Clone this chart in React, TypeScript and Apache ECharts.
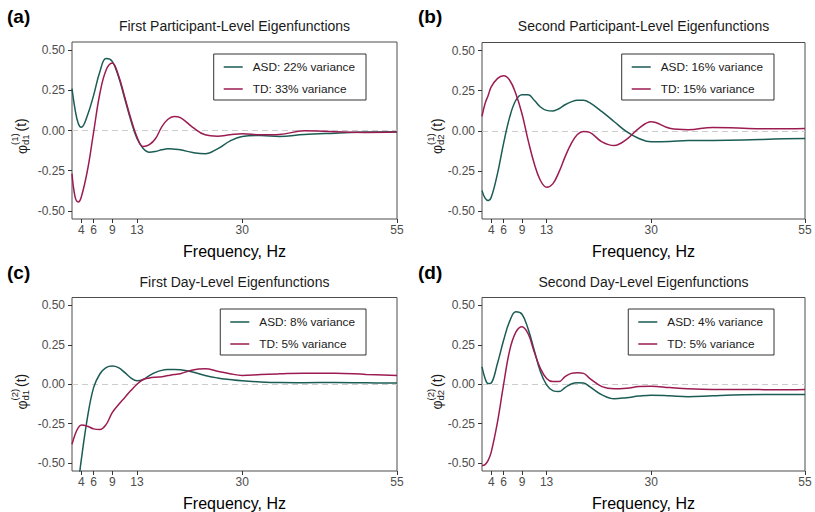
import React, { useEffect, useRef } from "react";
import * as echarts from "echarts";

// ---------- data ----------
const freq = [2.5, 3, 3.5, 4, 5, 6, 7, 8, 9, 10, 11, 12, 13, 14, 15, 16, 17, 18, 19, 20, 22, 24, 26, 28, 30, 33, 36, 40, 45, 50, 55];

const aASD = [0.26, 0.13, 0.045, 0.02, 0.095, 0.22, 0.365, 0.447, 0.43, 0.335, 0.2, 0.064, -0.05, -0.112, -0.135, -0.13, -0.12, -0.114, -0.116, -0.12, -0.137, -0.145, -0.114, -0.066, -0.037, -0.031, -0.037, -0.025, -0.017, -0.01, -0.008];
const aTD = [-0.268, -0.413, -0.444, -0.413, -0.247, -0.008, 0.23, 0.375, 0.42, 0.344, 0.21, 0.075, -0.04, -0.1, -0.088, -0.05, 0.023, 0.07, 0.087, 0.08, 0.02, -0.027, -0.035, -0.027, -0.02, -0.027, -0.025, -0.002, -0.008, -0.012, -0.01];

const bASD = [-0.373, -0.42, -0.435, -0.415, -0.27, -0.08, 0.085, 0.19, 0.225, 0.225, 0.19, 0.148, 0.127, 0.123, 0.137, 0.162, 0.18, 0.19, 0.19, 0.175, 0.119, 0.056, -0.006, -0.048, -0.069, -0.067, -0.06, -0.06, -0.058, -0.052, -0.048];
const bTD = [0.09, 0.17, 0.22, 0.273, 0.325, 0.342, 0.315, 0.231, 0.106, -0.06, -0.206, -0.31, -0.352, -0.331, -0.258, -0.163, -0.08, -0.023, -0.004, -0.01, -0.069, -0.092, -0.054, 0.015, 0.056, 0.015, 0.006, 0.021, 0.015, 0.012, 0.014];

const cASD = [-0.95, -0.8, -0.64, -0.48, -0.21, -0.02, 0.065, 0.105, 0.115, 0.105, 0.075, 0.04, 0.022, 0.03, 0.055, 0.075, 0.088, 0.093, 0.094, 0.092, 0.078, 0.055, 0.04, 0.03, 0.022, 0.015, 0.011, 0.01, 0.011, 0.009, 0.008];
const cTD = [-0.38, -0.318, -0.277, -0.258, -0.266, -0.283, -0.287, -0.256, -0.18, -0.13, -0.085, -0.04, 0.0, 0.03, 0.04, 0.045, 0.048, 0.055, 0.062, 0.067, 0.091, 0.098, 0.083, 0.067, 0.056, 0.062, 0.066, 0.07, 0.07, 0.062, 0.056];

const dASD = [0.11, 0.037, 0.004, 0.008, 0.13, 0.277, 0.4, 0.46, 0.444, 0.35, 0.215, 0.079, -0.004, -0.04, -0.046, -0.021, 0.002, 0.01, 0.008, -0.015, -0.067, -0.092, -0.085, -0.075, -0.069, -0.073, -0.079, -0.073, -0.067, -0.065, -0.065];
const dTD = [-0.515, -0.51, -0.483, -0.43, -0.244, -0.004, 0.215, 0.33, 0.365, 0.32, 0.204, 0.1, 0.037, 0.017, 0.017, 0.048, 0.069, 0.073, 0.069, 0.037, -0.015, -0.029, -0.025, -0.015, -0.012, -0.021, -0.029, -0.033, -0.033, -0.035, -0.033];

const xTicks = [4, 6, 9, 13, 30, 55];
const yTicks = [-0.5, -0.25, 0, 0.25, 0.5];

const panelTitles = [
  "First Participant-Level Eigenfunctions",
  "Second Participant-Level Eigenfunctions",
  "First Day-Level Eigenfunctions",
  "Second Day-Level Eigenfunctions",
];
const panelLetters = ["(a)", "(b)", "(c)", "(d)"];
const asdNames = ["ASD: 22% variance", "ASD: 16% variance", "ASD: 8% variance", "ASD: 4% variance"];
const tdNames = ["TD: 33% variance", "TD: 15% variance", "TD: 5% variance", "TD: 5% variance"];
const ySup = ["(1)", "(1)", "(2)", "(2)"];
const ySub = ["d1", "d2", "d1", "d2"];
const xName = "Frequency, Hz";

const asdSeries = [aASD, bASD, cASD, dASD];
const tdSeries = [aTD, bTD, cTD, dTD];

// ---------- layout / style ----------
const FONT = "'Liberation Sans', Arial, Helvetica, sans-serif";
const ASD_COLOR = "#1b5c55";
const TD_COLOR = "#9c1c52";
const grids = [
  { left: 72, top: 42, width: 325, height: 177 },
  { left: 482, top: 42.5, width: 323, height: 176.5 },
  { left: 72, top: 297.5, width: 325, height: 177 },
  { left: 482, top: 297.5, width: 323, height: 177 },
];
const legendRight = [449, 41, 449, 41];
const legendTop = [54, 54, 309, 309];
const titleTop = [19, 19, 274.5, 274.5];
const letterPos = [
  [7, 16],
  [418, 16],
  [7, 272],
  [418, 272],
];
const yLabelPos = [
  [21, 132],
  [436.5, 132],
  [21, 387.5],
  [436.5, 387.5],
];

function buildOption() {
  const grid = grids.map((g) => ({
    ...g,
    show: true,
    borderColor: "#4d4d4d",
    borderWidth: 1,
    backgroundColor: "transparent",
    containLabel: false,
  }));
  const xAxis = grids.map((_, i) => ({
    gridIndex: i,
    type: "value",
    min: 2.5,
    max: 55,
    splitLine: { show: false },
    axisLine: { show: false, onZero: false },
    axisTick: { show: true, customValues: xTicks, length: 4, lineStyle: { color: "#333", width: 1 } },
    axisLabel: { customValues: xTicks, color: "#4d4d4d", fontSize: 12, margin: 5, fontFamily: FONT },
    name: xName,
    nameLocation: "middle",
    nameGap: 24,
    nameTextStyle: { fontSize: 16, color: "#000", fontFamily: FONT },
  }));
  const yAxis = grids.map((_, i) => ({
    gridIndex: i,
    type: "value",
    min: -0.55,
    max: 0.55,
    splitLine: { show: false },
    axisLine: { show: false, onZero: false },
    axisTick: { show: true, customValues: yTicks, length: 4, lineStyle: { color: "#333", width: 1 } },
    axisLabel: {
      customValues: yTicks,
      color: "#4d4d4d",
      fontSize: 12,
      margin: 7,
      fontFamily: FONT,
      formatter: (v: number) => v.toFixed(2),
    },
  }));
  const series: any[] = [];
  grids.forEach((_, i) => {
    series.push({
      type: "line",
      name: asdNames[i],
      xAxisIndex: i,
      yAxisIndex: i,
      data: freq.map((f, j) => [f, asdSeries[i][j]]),
      smooth: 0.4,
      symbol: "none",
      showSymbol: false,
      clip: true,
      lineStyle: { color: ASD_COLOR, width: 1.5 },
      itemStyle: { color: ASD_COLOR },
      z: 3,
      markLine: {
        silent: true,
        symbol: ["none", "none"],
        label: { show: false },
        lineStyle: { color: "#cccccc", type: [6, 4], width: 1.2 },
        data: [{ yAxis: 0 }],
        z: 1,
      },
    });
    series.push({
      type: "line",
      name: tdNames[i],
      xAxisIndex: i,
      yAxisIndex: i,
      data: freq.map((f, j) => [f, tdSeries[i][j]]),
      smooth: 0.4,
      symbol: "none",
      showSymbol: false,
      clip: true,
      lineStyle: { color: TD_COLOR, width: 1.5 },
      itemStyle: { color: TD_COLOR },
      z: 3,
    });
  });
  const legend = grids.map((_, i) => ({
    data: [asdNames[i], tdNames[i]],
    orient: "vertical",
    right: legendRight[i],
    top: legendTop[i],
    icon: "path://M0,0H20V1.6H0Z",
    itemWidth: 19,
    itemHeight: 14,
    itemGap: 10,
    padding: [7, 11, 5, 10],
    borderColor: "#333",
    borderWidth: 1,
    selectedMode: false,
    textStyle: { fontSize: 11.8, color: "#1a1a1a", fontFamily: FONT, padding: [0, 0, 0, 5] },
  }));
  const title = grids.map((g, i) => ({
    text: panelTitles[i],
    left: g.left + g.width / 2,
    top: titleTop[i],
    textAlign: "center",
    padding: 0,
    textStyle: { fontSize: 14, fontWeight: "normal", color: "#1a1a1a", fontFamily: FONT },
  }));
  const graphic: any[] = [];
  grids.forEach((_, i) => {
    graphic.push({
      type: "text",
      x: letterPos[i][0],
      y: letterPos[i][1],
      style: {
        text: panelLetters[i],
        fontSize: 19,
        fontWeight: "bold",
        fontFamily: FONT,
        fill: "#000",
        textAlign: "left",
        textVerticalAlign: "middle",
      },
    });
    const base = { fontFamily: FONT, fill: "#1a1a1a", textAlign: "left", textVerticalAlign: "middle" };
    graphic.push({
      type: "group",
      x: yLabelPos[i][0],
      y: yLabelPos[i][1],
      rotation: Math.PI / 2,
      children: [
        { type: "text", x: -22, y: 0.5, style: { ...base, text: "φ", fontSize: 14 } },
        { type: "text", x: -13, y: -6.5, style: { ...base, text: ySup[i], fontSize: 9.5 } },
        { type: "text", x: -13, y: 4, style: { ...base, text: ySub[i], fontSize: 9.5 } },
        { type: "text", x: 0.5, y: 0, style: { ...base, text: "(t)", fontSize: 14 } },
      ],
    });
  });
  return {
    animation: false,
    backgroundColor: "#ffffff",
    textStyle: { fontFamily: FONT },
    grid,
    xAxis,
    yAxis,
    series,
    legend,
    title,
    graphic,
  };
}

export default function App() {
  const ref = useRef<HTMLDivElement>(null);
  useEffect(() => {
    if (!ref.current) return;
    const chart = echarts.init(ref.current, undefined, { renderer: "svg" });
    chart.setOption(buildOption() as any);
    return () => chart.dispose();
  }, []);
  return (
    <div
      ref={ref}
      style={{ position: "fixed", left: 0, top: 0, width: 815, height: 512, background: "#fff" }}
    />
  );
}
